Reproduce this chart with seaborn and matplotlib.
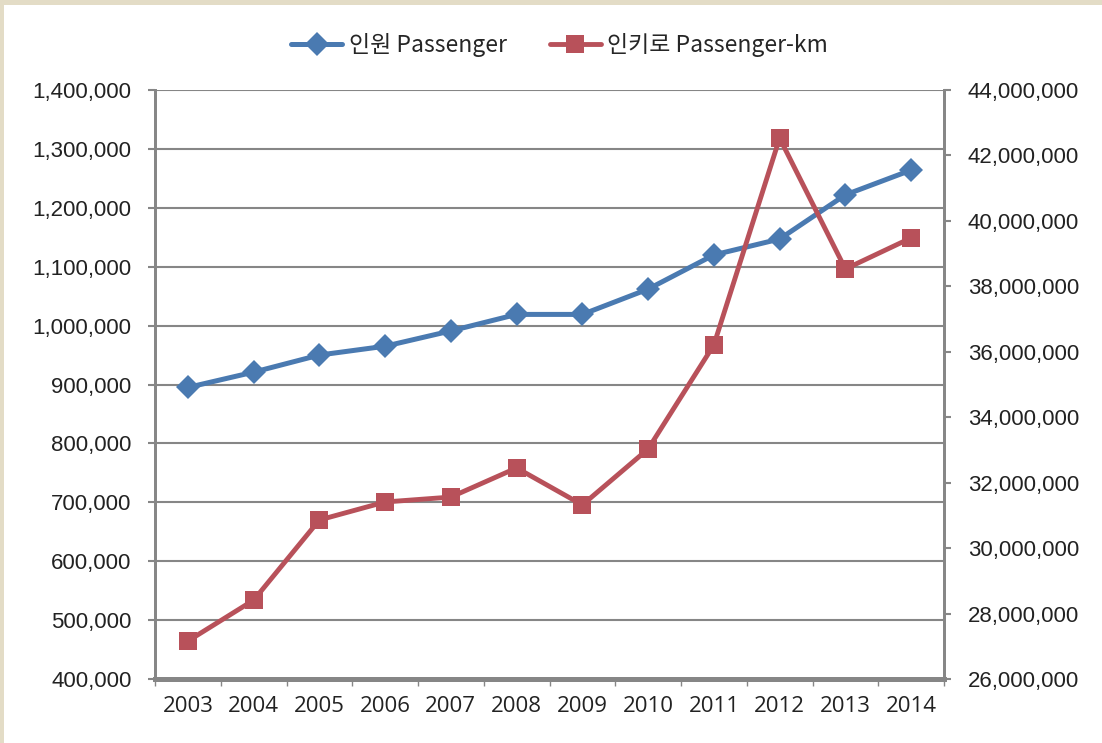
import matplotlib
matplotlib.use('Agg')
import matplotlib.pyplot as plt
from matplotlib.patches import Rectangle
from matplotlib.ticker import FuncFormatter, FixedLocator
import seaborn as sns

# Data
years = ['2003', '2004', '2005', '2006', '2007', '2008',
         '2009', '2010', '2011', '2012', '2013', '2014']
passenger = [895000, 921000, 950000, 965000, 991000, 1019000,
             1019000, 1062000, 1120000, 1147000, 1222000, 1264000]
passenger_km = [27160000, 28410000, 30860000, 31410000, 31560000, 32450000,
                31320000, 33030000, 36210000, 42530000, 38530000, 39480000]

label_passenger = '인원 Passenger'
label_passenger_km = '인키로 Passenger-km'

blue = '#4A7AB1'
red = '#B8515A'
grey = '#868686'

sns.set_theme(style='white')
plt.rcParams['font.family'] = ['Liberation Sans', 'DejaVu Sans']

fig = plt.figure(figsize=(11.02, 7.43), dpi=100)
ax = fig.add_axes([155 / 1102, 1 - 679 / 743, (944 - 155) / 1102, (679 - 90) / 743])
ax2 = ax.twinx()

pos = list(range(len(years)))

# Primary series
sns.lineplot(x=pos, y=passenger, ax=ax, color=blue, linewidth=3.6,
             marker='D', markersize=12, markeredgewidth=0, legend=False)
# Secondary series
sns.lineplot(x=pos, y=passenger_km, ax=ax2, color=red, linewidth=3.5,
             marker='s', markersize=13.5, markeredgewidth=0, legend=False)

ax.set_xlim(-0.5, len(years) - 0.5)
ax.set_ylim(400000, 1400000)
ax2.set_ylim(26000000, 44000000)
ax.set_yticks(range(400000, 1400001, 100000))
ax2.set_yticks(range(26000000, 44000001, 2000000))

fmt = FuncFormatter(lambda v, p: '{:,.0f}'.format(v))
ax.yaxis.set_major_formatter(fmt)
ax2.yaxis.set_major_formatter(fmt)

# Category axis: labels at centres, tick marks between categories
ax.set_xticks(pos)
ax.set_xticklabels(years)
ax.xaxis.set_minor_locator(FixedLocator([p - 0.5 for p in range(len(years) + 1)]))
ax.tick_params(axis='x', which='major', length=0, pad=12, labelsize=16, labelcolor='#222222')
ax.tick_params(axis='x', which='minor', bottom=True, length=5, width=1, color=grey)
for t in ax.get_xticklabels():
    t.set_fontfamily(['Open Sans', 'DejaVu Sans'])

ax.tick_params(axis='y', left=True, length=5, width=1.5, color=grey, pad=12,
               labelsize=16, labelcolor='#222222')
ax2.tick_params(axis='y', right=True, length=5, width=1.5, color=grey, pad=12,
                labelsize=16, labelcolor='#222222')

# Gridlines
ax.grid(axis='y', color=grey, linewidth=1.5)
ax.grid(axis='x', visible=False)
ax2.grid(False)
ax.set_axisbelow(True)

# Spines
for a in (ax, ax2):
    a.spines['top'].set_visible(False)
    a.spines['left'].set_color(grey)
    a.spines['left'].set_linewidth(2)
    a.spines['right'].set_color(grey)
    a.spines['right'].set_linewidth(2)
    a.spines['bottom'].set_color(grey)
    a.spines['bottom'].set_linewidth(3.5)

# Legend
handles = [ax.get_lines()[0], ax2.get_lines()[0]]
fig.legend(handles, [label_passenger, label_passenger_km], loc='center',
           bbox_to_anchor=(0.508, 1 - 45 / 743), ncol=2, frameon=False,
           handlelength=2.2, columnspacing=1.9, handletextpad=0.3,
           prop={'family': ['Noto Sans CJK KR', 'DejaVu Sans'], 'size': 16.5})

# Beige frame at top and left
beige = '#E3DCC6'
fig.patches.append(Rectangle((0, 1 - 5 / 743), 1, 5 / 743, transform=fig.transFigure,
                             facecolor=beige, edgecolor='none', zorder=0))
fig.patches.append(Rectangle((0, 0), 4 / 1102, 1, transform=fig.transFigure,
                             facecolor=beige, edgecolor='none', zorder=0))

fig.savefig('out.png', dpi=100)
